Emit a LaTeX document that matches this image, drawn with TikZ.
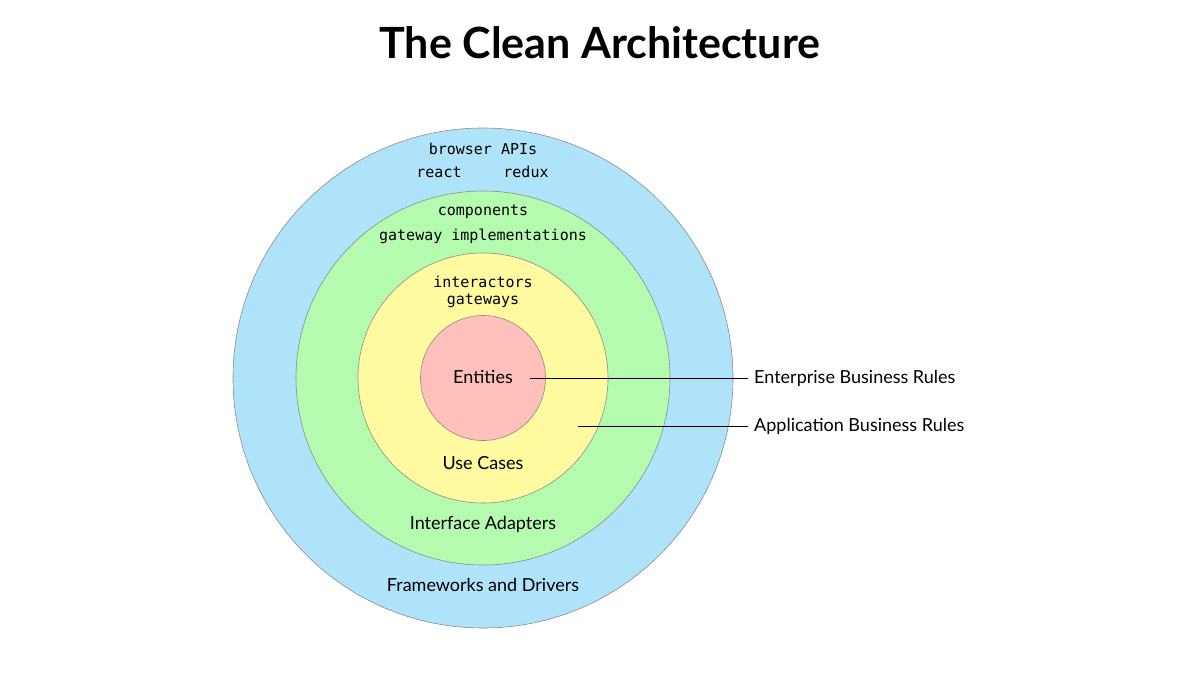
\documentclass[tikz,border=0pt]{standalone}
\usepackage{fontspec}
\setmainfont{Lato}
\setmonofont{DejaVu Sans Mono}
\definecolor{cblue}{HTML}{AEE3FA}
\definecolor{cgreen}{HTML}{B5FBAF}
\definecolor{cyellow}{HTML}{FFF9A0}
\definecolor{cred}{HTML}{FFBFBA}
\begin{document}
\begin{tikzpicture}[x=1pt,y=-1pt,
  ring/.style={circle,draw=black!45,line width=0.6pt,inner sep=0pt},
  lab/.style={font=\fontsize{18}{20}\selectfont},
  code/.style={font=\ttfamily\fontsize{15}{17}\selectfont},
  side/.style={font=\fontsize{18}{20}\selectfont,anchor=west,inner sep=4pt},
  lead/.style={line width=0.8pt}]
\useasboundingbox (0,0) rectangle (1200,675);
\node[font=\bfseries\fontsize{43}{48}\selectfont] (title) at (600,43) {The Clean Architecture};
\node[ring,fill=cblue,minimum size=500pt] (outer) at (483,378) {};
\node[ring,fill=cgreen,minimum size=374pt] (green) at (483,378) {};
\node[ring,fill=cyellow,minimum size=250pt] (yellow) at (483,378) {};
\node[ring,fill=cred,minimum size=125pt] (red) at (483,378) {};
\node[code] (api) at (483,149) {browser APIs};
\node[code] (react) at (439,172) {react};
\node[code] (redux) at (526,172) {redux};
\node[code] (comp) at (483,212) {components};
\node[code] (gimpl) at (483,236) {gateway implementations};
\node[code] (inter) at (483,282) {interactors};
\node[code] (gate) at (483,301) {gateways};
\node[lab] (ent) at (483,377) {Entities};
\node[lab] (uc) at (483,463) {Use Cases};
\node[lab] (ia) at (483,524) {Interface Adapters};
\node[lab] (fd) at (483,585) {Frameworks and Drivers};
\node[side] (ebr) at (750,378) {Enterprise Business Rules};
\node[side] (abr) at (750,426) {Application Business Rules};
\coordinate (e1) at (530,378);
\coordinate (a1) at (578,426);
\draw[lead] (e1) -- ([xshift=-2pt]ebr.west);
\draw[lead] (a1) -- ([xshift=-2pt]abr.west);
\end{tikzpicture}
\end{document}
